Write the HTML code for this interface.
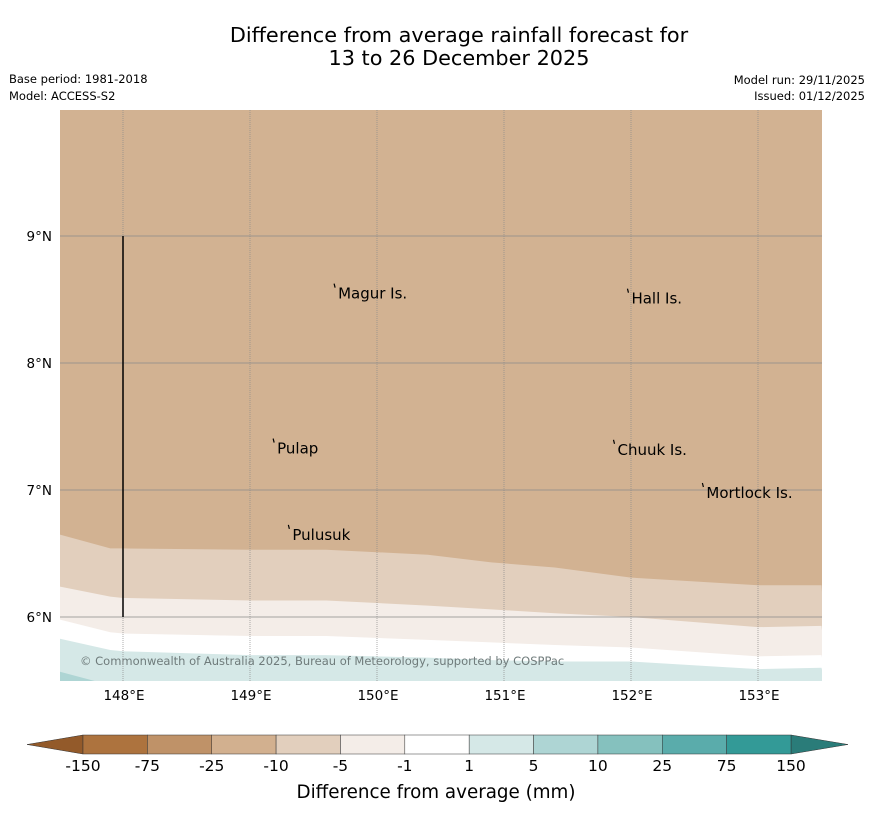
<!DOCTYPE html>
<html><head><meta charset="utf-8"><style>
body{margin:0;background:#fff;width:873px;height:816px;overflow:hidden;font-family:"DejaVu Sans","Liberation Sans",sans-serif;}
</style></head><body>
<svg id="s" width="873" height="816" xmlns="http://www.w3.org/2000/svg" font-family="DejaVu Sans, Liberation Sans, sans-serif">
<text x="459" y="42" font-size="20.8" text-anchor="middle">Difference from average rainfall forecast for</text>
<text x="459" y="65" font-size="20.8" text-anchor="middle">13 to 26 December 2025</text>
<text x="9" y="83" font-size="11.5">Base period: 1981-2018</text>
<text x="9" y="100" font-size="11.5">Model: ACCESS-S2</text>
<text x="865" y="84" font-size="11.5" text-anchor="end">Model run: 29/11/2025</text>
<text x="865" y="100" font-size="11.5" text-anchor="end">Issued: 01/12/2025</text>
<defs><clipPath id="mc"><rect x="60" y="110" width="762" height="571"/></clipPath></defs>
<g id="map" clip-path="url(#mc)"></g>
<g id="grid"></g>
<g id="cb"></g>
<text x="436" y="798" font-size="18.3" text-anchor="middle">Difference from average (mm)</text>
</svg>
<script>
const lons=[147.5,147.9,148,149,149.6,150.4,150.9,151.4,152,153,153.5];
const b1=[6.65,6.54,6.54,6.53,6.53,6.49,6.43,6.39,6.31,6.25,6.25];
const b2=[6.24,6.16,6.15,6.13,6.13,6.09,6.06,6.03,6.00,5.92,5.93];
const b3=[5.98,5.88,5.87,5.85,5.85,5.82,5.80,5.78,5.76,5.69,5.70];
const b4=[5.83,5.74,5.73,5.70,5.70,5.68,5.66,5.65,5.65,5.59,5.60];
const b5Lons=[147.5,147.8];
const b5=[5.57,5.49];
const xTicks=[148,149,150,151,152,153];
const yTicks=[6,7,8,9];
const places=[["Magur Is.",149.67,8.57],["Hall Is.",151.98,8.53],["Pulap",149.19,7.35],["Chuuk Is.",151.87,7.34],["Mortlock Is.",152.57,7.0],["Pulusuk",149.31,6.67]];
const cbLabels=["-150","-75","-25","-10","-5","-1","1","5","10","25","75","150"];
const cbColors=["#ad733e","#bf9268","#d2b08f","#e2cfbd","#f4ede8","#ffffff","#d5e8e7","#aed5d4","#85c1be","#5aacab","#339a97"];
const X=l=>123+(l-148)*127, Y=a=>236-(a-9)*127;
const NS="http://www.w3.org/2000/svg";
function mk(t,a,p){const e=document.createElementNS(NS,t);for(const k in a)e.setAttribute(k,a[k]);p.appendChild(e);return e;}
const map=document.getElementById('map'),grid=document.getElementById('grid'),cb=document.getElementById('cb');
let r=mk('rect',{x:60,y:110,width:762,height:571,fill:'#d2b292'},map);


function band(arr,fill,name){const pts=lons.map((l,i)=>X(l)+','+Y(arr[i])).join(' ')+' 830,700 50,700';
const p=mk('polygon',{points:pts,fill:fill},map);

}
band(b1,'#e2cfbd','band-minus10');band(b2,'#f4ede8','band-minus5');band(b3,'#ffffff','band-minus1');band(b4,'#d5e8e7','band-plus1');
{const pts=b5Lons.map((l,i)=>X(l)+','+Y(b5[i])).join(' ')+' 50,700';
const p=mk('polygon',{points:pts,fill:'#aed5d4'},map);

}
const cr=mk('text',{x:80,y:665,'font-size':11.5,fill:'#6f7b7b'},map);cr.textContent='© Commonwealth of Australia 2025, Bureau of Meteorology, supported by COSPPac';


xTicks.forEach(l=>{const ln=mk('line',{x1:X(l),x2:X(l),y1:110,y2:681,stroke:'#8a8a8a','stroke-width':0.7,'stroke-dasharray':'1,1'},grid);


const t=mk('text',{x:X(l)+1,y:700,'font-size':13.5,'text-anchor':'middle'},grid);t.textContent=l+'°E';

});
yTicks.forEach(a=>{const ln=mk('line',{x1:60,x2:822,y1:Y(a),y2:Y(a),stroke:'#8a8a8a','stroke-width':0.7},grid);


const t=mk('text',{x:52,y:Y(a)+5,'font-size':13.5,'text-anchor':'end'},grid);t.textContent=a+'°N';

});
const vl=mk('line',{x1:X(148),x2:X(148),y1:Y(9),y2:Y(6),stroke:'#000','stroke-width':1.5},grid);


places.forEach(p=>{const m=mk('path',{d:`M${X(p[1])-1},${Y(p[2])-7} l1,4`,stroke:'#000','stroke-width':1.2},grid);


const t=mk('text',{x:X(p[1])+3,y:Y(p[2])+8,'font-size':15},grid);t.textContent=p[0];

});
const c0=83,cw=(791-83)/11;
const lt=mk('polygon',{points:`27,744.5 ${c0},735 ${c0},754`,fill:'#935a2a',stroke:'#333','stroke-width':0.5},cb);


const rt=mk('polygon',{points:`848,744.5 791,735 791,754`,fill:'#2a7c79',stroke:'#333','stroke-width':0.5},cb);


cbColors.forEach((c,i)=>{const b=mk('rect',{x:c0+i*cw,y:735,width:cw,height:19,fill:c,stroke:'#333','stroke-width':0.5},cb);

});
cbLabels.forEach((s,i)=>{const t=mk('text',{x:c0+i*cw,y:771,'font-size':15.5,'text-anchor':'middle'},cb);t.textContent=s;

});
</script>
</body></html>
